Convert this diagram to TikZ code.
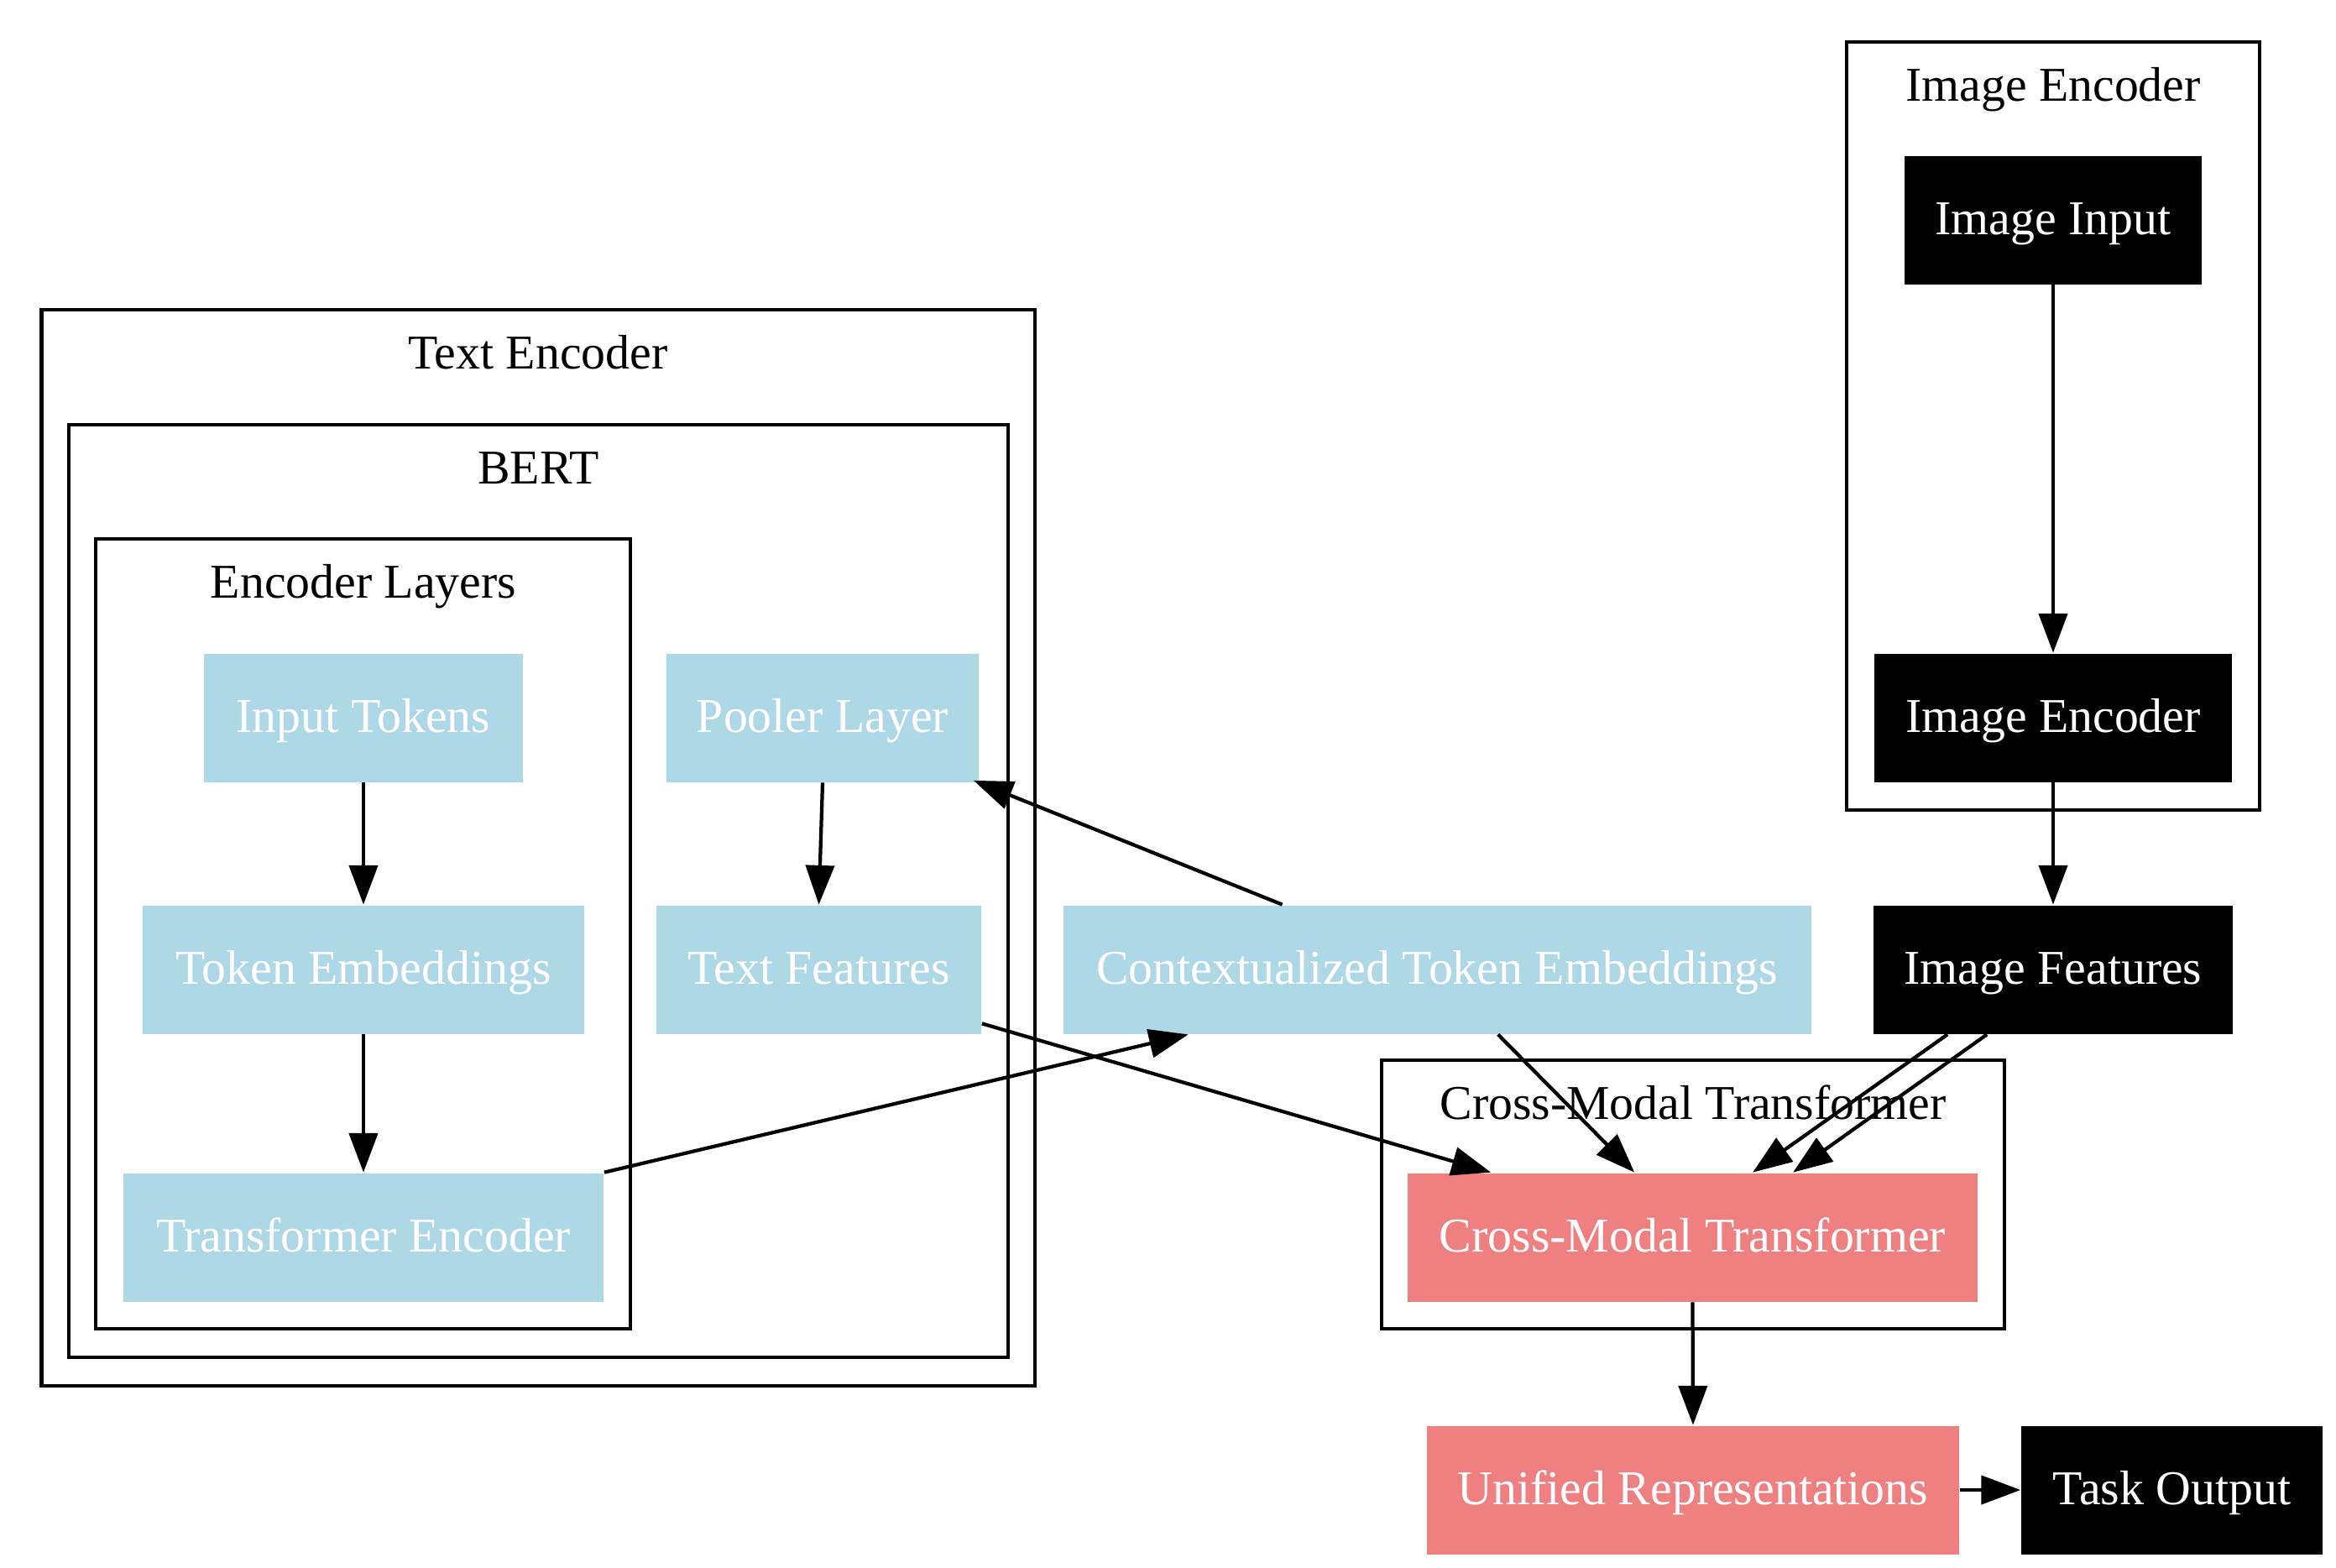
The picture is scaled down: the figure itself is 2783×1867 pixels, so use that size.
\documentclass[tikz,border=0pt]{standalone}
\usepackage{fontspec}
\setmainfont{Liberation Serif}
\usetikzlibrary{arrows.meta,calc}
\definecolor{lblue}{HTML}{ADD8E6}
\definecolor{lcoral}{HTML}{F08080}
\newcommand\pxu{0.235294pt}
\begin{document}
\begin{tikzpicture}[x=0.235294pt, y=-0.235294pt,
  box/.style={rectangle, inner sep=0pt, minimum height=36pt, text height=10pt, text depth=1.76pt,
    font=\fontsize{13.6}{16}\selectfont, text=white},
  tbox/.style={box, fill=lblue},
  rbox/.style={box, fill=lcoral},
  kbox/.style={box, fill=black},
  cluster/.style={draw=black, line width=1pt},
  clabel/.style={anchor=base, inner sep=0pt, font=\fontsize{13.6}{16}\selectfont},
  edge/.style={line width=1pt, -{Triangle[length=11pt,width=8pt]}}
]
\useasboundingbox (0,0) rectangle (2783,1867);

% clusters
\draw[cluster] (49.5,369) rectangle (1233,1651);
\draw[cluster] (82,506) rectangle (1201,1617);
\draw[cluster] (114,642) rectangle (751,1583);
\draw[cluster] (2200,50) rectangle (2692,965);
\draw[cluster] (1646,1263) rectangle (2388,1583);

\node[clabel] (lte) at (641,439) {Text Encoder};
\node[clabel] (lbert) at (641.5,576) {BERT};
\node[clabel] (lel) at (433,712) {Encoder Layers};
\node[clabel] (lie) at (2446,120) {Image Encoder};
\node[clabel] (lcm) at (2017,1333) {Cross-Modal Transformer};

% nodes
\node[tbox, minimum width=380*\pxu] (it) at (433,855) {Input Tokens};
\node[tbox, minimum width=526*\pxu] (tem) at (433,1155) {Token Embeddings};
\node[tbox, minimum width=572*\pxu] (tre) at (433,1474) {Transformer Encoder};
\node[tbox, minimum width=372*\pxu] (pl) at (980,855) {Pooler Layer};
\node[tbox, minimum width=387*\pxu] (tf) at (975.5,1155) {Text Features};
\node[tbox, minimum width=891*\pxu] (cte) at (1712,1155) {Contextualized Token Embeddings};
\node[kbox, minimum width=354*\pxu] (ii) at (2446,262) {Image Input};
\node[kbox, minimum width=426*\pxu] (ien) at (2446,855) {Image Encoder};
\node[kbox, minimum width=428*\pxu] (imf) at (2446,1155) {Image Features};
\node[rbox, minimum width=679*\pxu] (cmt) at (2016.5,1474) {Cross-Modal Transformer};
\node[rbox, minimum width=634*\pxu] (ur) at (2017,1775) {Unified Representations};
\node[kbox, minimum width=359*\pxu] (to) at (2587.5,1775) {Task Output};

% edges
\draw[edge] (it.south) -- (tem.north);
\draw[edge] (tem.south) -- (tre.north);
\draw[edge] (tre.north east) -- ($(cte.south west)+(150,0)$);
\draw[edge] ($(cte.north west)+(262,0)$) -- ($(pl.south east)+(-7,-2.5)$);
\draw[edge] (pl.south) -- (tf.north);
\draw[edge] ($(tf.south east)+(0,-13)$) -- ($(cmt.north west)+(100,0)$);
\draw[edge] ($(cte.south west)+(519,0)$) -- ($(cmt.north west)+(271,0)$);
\draw[edge] ($(imf.south west)+(89,0)$) -- ($(cmt.north west)+(412,0)$);
\draw[edge] ($(imf.south west)+(136,0)$) -- ($(cmt.north west)+(460,0)$);
\draw[edge] (ii.south) -- (ien.north);
\draw[edge] (ien.south) -- (imf.north);
\draw[edge] (cmt.south) -- (ur.north);
\draw[edge] (ur.east) -- (to.west);
\end{tikzpicture}
\end{document}
